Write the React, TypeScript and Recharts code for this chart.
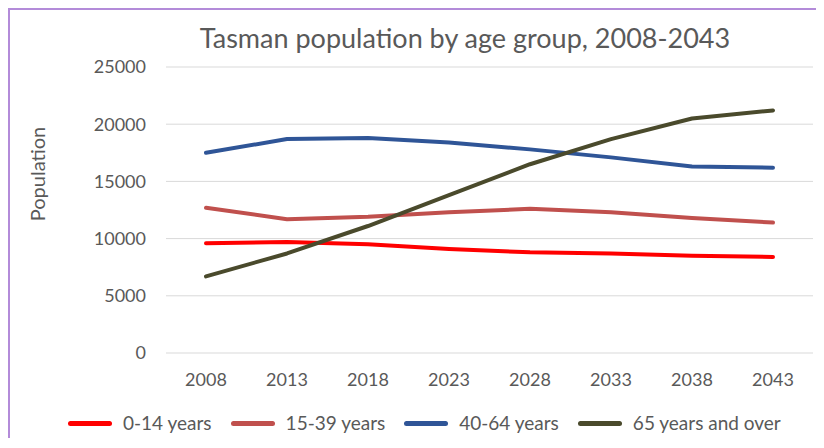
import { CartesianGrid, Legend, Line, LineChart, XAxis, YAxis } from "recharts";

const FONT = "Lato, 'Noto Sans', sans-serif";
const INK = "#595959";

const years = ["2008", "2013", "2018", "2023", "2028", "2033", "2038", "2043"];
const age0to14 = [9600, 9700, 9500, 9100, 8800, 8700, 8500, 8400];
const age15to39 = [12700, 11700, 11900, 12300, 12600, 12300, 11800, 11400];
const age40to64 = [17500, 18700, 18800, 18400, 17800, 17100, 16300, 16200];
const age65plus = [6700, 8700, 11100, 13800, 16500, 18700, 20500, 21200];

const seriesNames = ["0-14 years", "15-39 years", "40-64 years", "65 years and over"];
const seriesColors = ["#ff0000", "#c0504d", "#2f5597", "#4a4a2c"];
const yTicks = [0, 5000, 10000, 15000, 20000, 25000];

const data = years.map((year, i) => ({
  year,
  a: age0to14[i],
  b: age15to39[i],
  c: age40to64[i],
  d: age65plus[i],
}));
const keys = ["a", "b", "c", "d"];

function LegendRow({ payload }: any) {
  return (
    <div style={{ display: "flex", alignItems: "center", fontFamily: FONT, fontSize: 19, color: INK, whiteSpace: "nowrap", lineHeight: "22px" }}>
      {(payload ?? []).map((item: any) => (
        <div key={item.value} style={{ display: "flex", alignItems: "center", marginRight: 19 }}>
          <span style={{ display: "inline-block", width: 44, height: 5, borderRadius: 3, background: item.color, marginRight: 11 }} />
          <span>{item.value}</span>
        </div>
      ))}
    </div>
  );
}

export default function App() {
  return (
    <div style={{ position: "relative", width: 814, height: 428, borderLeft: "2px solid #b38bd9", borderTop: "2px solid #b38bd9", background: "#fff" }}>
      <div style={{ position: "absolute", left: 455, top: 13, transform: "translateX(-50%)", fontFamily: FONT, fontSize: 27, lineHeight: "30px", color: INK, whiteSpace: "nowrap" }}>
        Tasman population by age group, 2008-2043
      </div>
      <LineChart width={814} height={428} data={data} margin={{ top: 57, right: 11, bottom: 55, left: 0 }}>
        <CartesianGrid stroke="#d9d9d9" vertical={false} />
        <XAxis
          dataKey="year"
          padding={{ left: 40, right: 40 }}
          axisLine={false}
          tickLine={false}
          tickSize={0}
          tickMargin={20}
          tick={{ fill: INK, fontSize: 18, fontFamily: FONT }}
        />
        <YAxis
          width={156}
          domain={[0, 25000]}
          ticks={yTicks}
          interval={0}
          axisLine={false}
          tickLine={false}
          tickSize={0}
          tickMargin={20}
          tick={{ fill: INK, fontSize: 18, fontFamily: FONT }}
          label={{
            content: () => (
              <text x={27} y={164} transform="rotate(-90 27 164)" textAnchor="middle" dominantBaseline="central" fill={INK} fontSize={20} fontFamily={FONT}>
                Population
              </text>
            ),
          }}
        />
        <Legend verticalAlign="middle" align="center" content={<LegendRow />} wrapperStyle={{ left: 58, top: 402, width: "auto" }} />
        {keys.map((k, i) => (
          <Line
            key={k}
            type="linear"
            dataKey={k}
            name={seriesNames[i]}
            stroke={seriesColors[i]}
            strokeWidth={4}
            strokeLinecap="round"
            strokeLinejoin="round"
            dot={false}
            activeDot={false}
            isAnimationActive={false}
          />
        ))}
      </LineChart>
    </div>
  );
}
